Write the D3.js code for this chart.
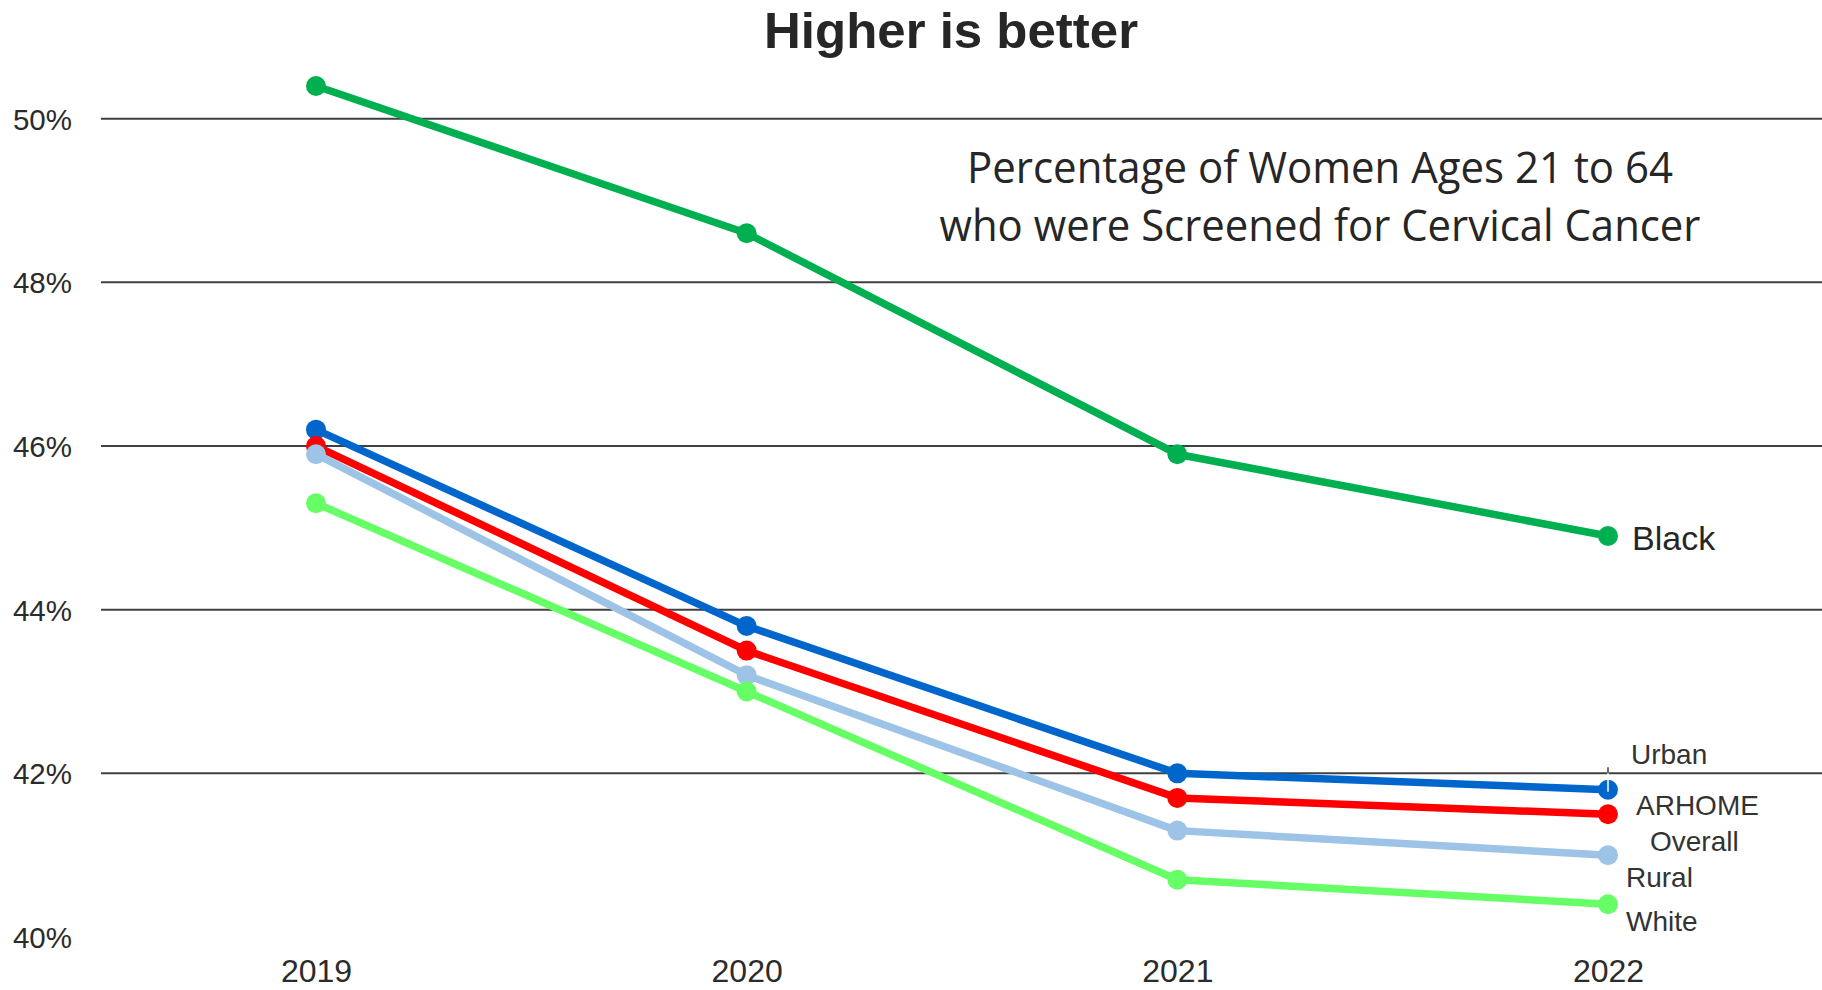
<!DOCTYPE html>
<html>
<head>
<meta charset="utf-8">
<script src="https://cdn.jsdelivr.net/npm/d3@7/dist/d3.min.js"></script>
<style>
  html, body { margin: 0; padding: 0; background: #fff; }
  svg { display: block; }
</style>
</head>
<body>
<svg id="chart" width="1822" height="990"></svg>
<script>
// ---- data ----
const years = ["2019", "2020", "2021", "2022"];
const yTicks = [40, 42, 44, 46, 48, 50];
const seriesNames = ["Black", "Urban", "ARHOME Overall", "Rural", "White"];
const blackValues = [50.4, 48.6, 45.9, 44.9];
const urbanValues = [46.2, 43.8, 42.0, 41.8];
const overallValues = [46.0, 43.5, 41.7, 41.5];
const ruralValues = [45.9, 43.2, 41.3, 41.0];
const whiteValues = [45.3, 43.0, 40.7, 40.4];
const seriesColors = ["#00B050", "#0066CC", "#FF0000", "#9DC3E6", "#66FF66"];
const titleText = "Higher is better";
const subtitleLines = ["Percentage of Women Ages 21 to 64", "who were Screened for Cervical Cancer"];

const series = [
  { name: seriesNames[0], values: blackValues, color: seriesColors[0] },
  { name: seriesNames[1], values: urbanValues, color: seriesColors[1] },
  { name: seriesNames[2], values: overallValues, color: seriesColors[2] },
  { name: seriesNames[3], values: ruralValues, color: seriesColors[3] },
  { name: seriesNames[4], values: whiteValues, color: seriesColors[4] }
];

const svg = d3.select("#chart");
const plotLeft = 101, plotRight = 1822;

const x = d3.scalePoint().domain(years).range([316, 1608]);
const y = d3.scaleLinear().domain([40, 50]).range([937, 118.7]);

// gridlines (no line at 40%)
svg.append("g")
  .selectAll("line")
  .data(yTicks.filter(t => t > 40))
  .join("line")
  .attr("x1", plotLeft).attr("x2", plotRight)
  .attr("y1", d => y(d)).attr("y2", d => y(d))
  .attr("stroke", "#404040").attr("stroke-width", 2);

// y axis labels
const yAxis = d3.axisLeft(y).tickValues(yTicks).tickFormat(d => d + "%").tickSize(0).tickPadding(0);
const yg = svg.append("g").attr("transform", "translate(72,0)").call(yAxis);
yg.select(".domain").remove();
yg.selectAll("text")
  .attr("font-family", "'Liberation Sans', Arial, sans-serif")
  .attr("font-size", 29.5)
  .attr("fill", "#2b2b2b")
  .attr("dy", "0.36em");

// x axis labels
const xAxis = d3.axisBottom(x).tickSize(0).tickPadding(0);
const xg = svg.append("g").attr("transform", "translate(0,982)").call(xAxis);
xg.select(".domain").remove();
xg.selectAll("text")
  .attr("font-family", "'Liberation Sans', Arial, sans-serif")
  .attr("font-size", 32)
  .attr("fill", "#2b2b2b")
  .attr("dy", 0)
  .attr("y", 0);

// lines
const line = d3.line().x((d, i) => x(years[i])).y(d => y(d));
const sg = svg.append("g").selectAll("g").data(series).join("g");
sg.append("path")
  .attr("d", d => line(d.values))
  .attr("fill", "none")
  .attr("stroke", d => d.color)
  .attr("stroke-width", 7.5)
  .attr("stroke-linejoin", "round");
sg.selectAll("circle")
  .data(d => d.values.map((v, i) => ({ v, i, color: d.color })))
  .join("circle")
  .attr("cx", d => x(years[d.i]))
  .attr("cy", d => y(d.v))
  .attr("r", 10)
  .attr("fill", d => d.color);

// small leader tick at Urban label
svg.append("line")
  .attr("x1", x("2022")).attr("x2", x("2022"))
  .attr("y1", y(42) - 6).attr("y2", y(urbanValues[3]) + 2)
  .attr("stroke", "#fff").attr("stroke-width", 1.5);
svg.append("line")
  .attr("x1", x("2022")).attr("x2", x("2022"))
  .attr("y1", y(42) - 6).attr("y2", y(42))
  .attr("stroke", "#404040").attr("stroke-width", 1.5);

// series labels
const labelFont = "'Liberation Sans', Arial, sans-serif";
svg.append("text")
  .attr("x", 1632).attr("y", 550)
  .attr("font-family", labelFont).attr("font-size", 34)
  .attr("fill", "#262626").text(seriesNames[0]);

const smallLabels = [
  { t: "Urban", x: 1631, y: 764 },
  { t: "ARHOME", x: 1636, y: 815 },
  { t: "Overall", x: 1650, y: 851 },
  { t: "Rural", x: 1626, y: 887 },
  { t: "White", x: 1626, y: 931 }
];
svg.append("g").selectAll("text").data(smallLabels).join("text")
  .attr("x", d => d.x).attr("y", d => d.y)
  .attr("font-family", labelFont).attr("font-size", 28)
  .attr("fill", "#333").text(d => d.t);

// title
svg.append("text")
  .attr("x", 951).attr("y", 48)
  .attr("text-anchor", "middle")
  .attr("font-family", "'Liberation Sans', Arial, sans-serif")
  .attr("font-weight", "bold")
  .attr("font-size", 50)
  .attr("fill", "#262626")
  .attr("textLength", 374)
  .attr("lengthAdjust", "spacingAndGlyphs")
  .text(titleText);

// subtitle
const subW = [706, 761];
const subY = [183, 241];
svg.append("g").selectAll("text").data(subtitleLines).join("text")
  .attr("x", 1320).attr("y", (d, i) => subY[i])
  .attr("text-anchor", "middle")
  .attr("font-family", "'Open Sans', sans-serif")
  .attr("font-size", 43)
  .attr("fill", "#262626")
  .attr("textLength", (d, i) => subW[i])
  .attr("lengthAdjust", "spacingAndGlyphs")
  .text(d => d);
</script>
</body>
</html>
